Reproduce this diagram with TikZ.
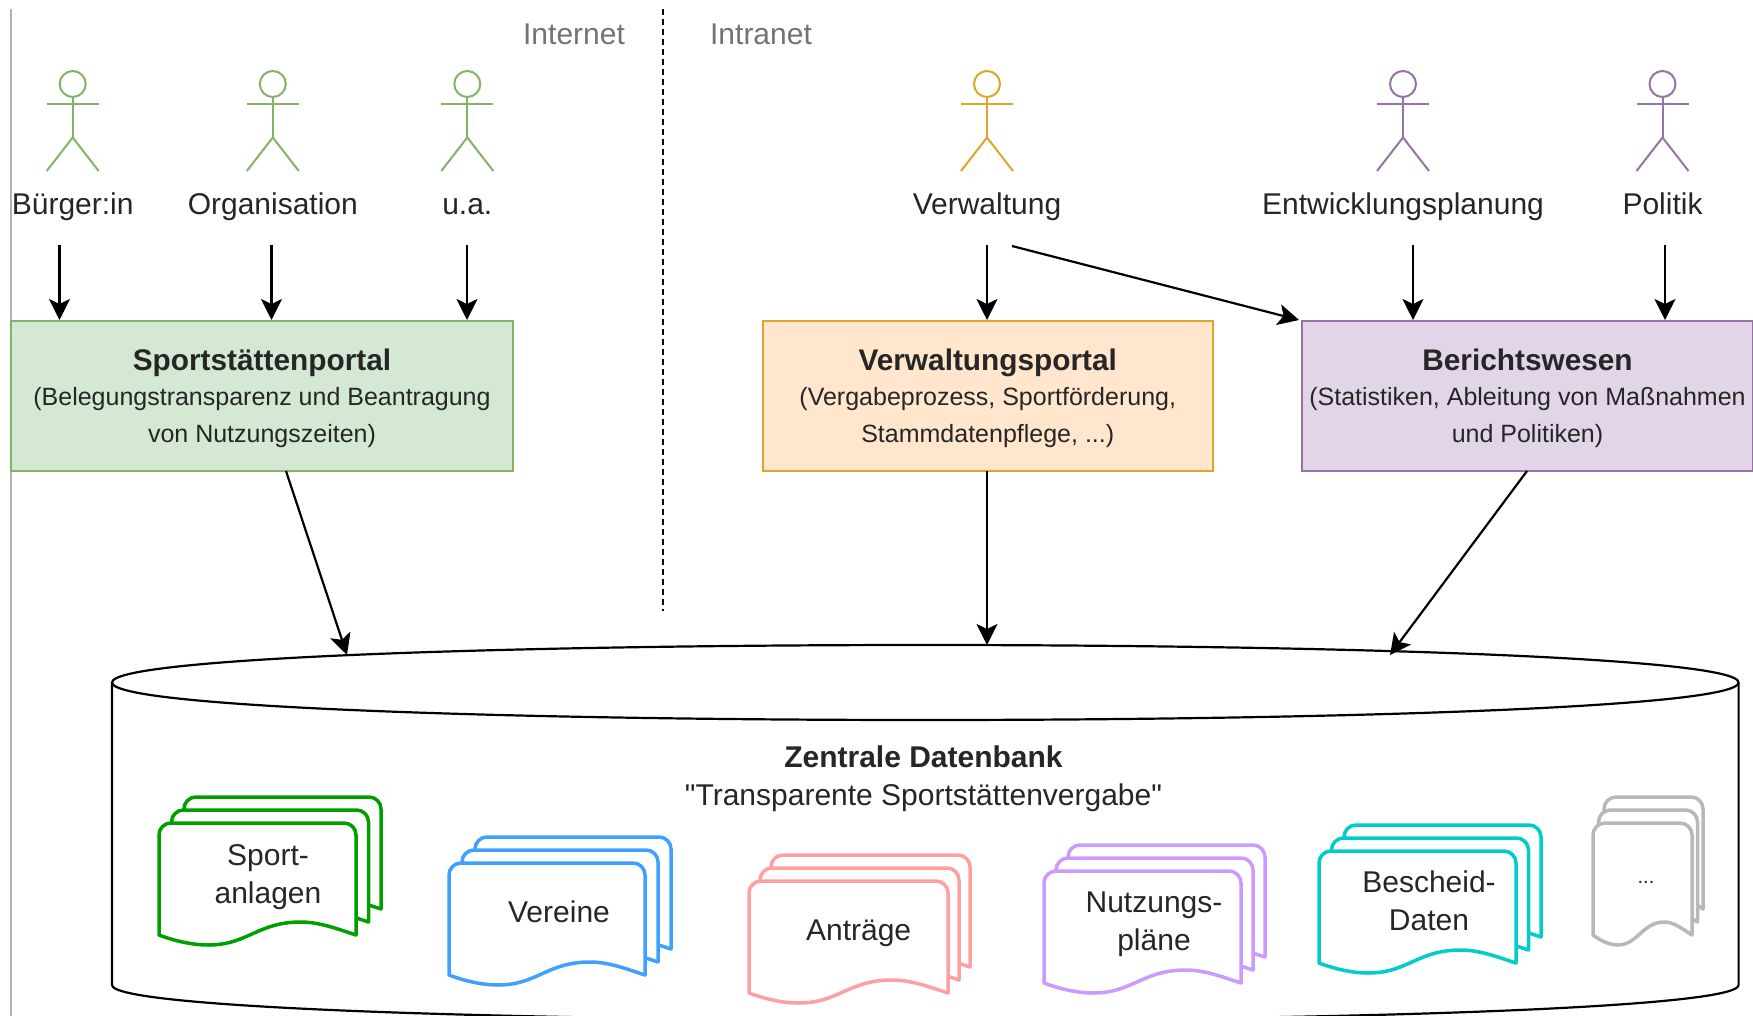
\documentclass[tikz,border=0pt]{standalone}
\usepackage{fontspec}
\setmainfont{Liberation Sans}
\newfontfamily\plainfont[Ligatures=NoCommon]{Liberation Sans}
\usetikzlibrary{arrows.meta}
\definecolor{grn}{HTML}{82B366}
\definecolor{grnf}{HTML}{D5E8D4}
\definecolor{org}{HTML}{E0A526}
\definecolor{orgf}{HTML}{FFE6CC}
\definecolor{pur}{HTML}{9673A6}
\definecolor{purf}{HTML}{E1D5E7}
\definecolor{dgreen}{HTML}{009F00}
\definecolor{dblue}{HTML}{3FA0FF}
\definecolor{dpink}{HTML}{FF9F9F}
\definecolor{dpurple}{HTML}{CC99FF}
\definecolor{dteal}{HTML}{00CCCC}
\definecolor{dgray}{HTML}{B8B8B8}
\tikzset{
  x=1pt,y=-1pt,
  lbl/.style={inner sep=0pt,text=black!85,font=\fontsize{30}{38}\selectfont},
  zone/.style={lbl,text=black!55},
  arr/.style={line width=2.2pt,draw=black,-{Stealth[length=21pt,width=21pt,inset=5pt]}},
  portal/.style={draw,line width=2pt,minimum height=150pt,inner sep=0pt,align=center,text=black!85,font=\fontsize{25}{37}\selectfont},
  db/.style={draw=black,line width=2.2pt,fill=white},
  doclayer/.style={line width=3.5pt,fill=white,line join=round},
  limb/.style={line width=2pt}
}
\newcommand{\ptitle}[1]{{\rule{0pt}{26pt}\fontsize{29.8}{36}\selectfont\bfseries #1}}
% actor: name, x, colour, label
\newcommand{\actorfig}[4]{%
  \node[circle,draw=#3,line width=2pt,minimum size=26pt,inner sep=0pt] (#1h) at (#2,84) {};
  \draw[limb,draw=#3] (#1h.south) -- (#2,137.5);
  \draw[limb,draw=#3] (#2-26,104) -- (#2+26,104);
  \draw[limb,draw=#3] (#2-26,171) -- (#2,137.5) -- (#2+26,171);
  \node[lbl,anchor=base] (#1l) at (#2,214.7) {#4};
}
% one sheet: width height
\newcommand{\sheet}[3]{%
  \draw[doclayer,draw=#3] (0,#2) [rounded corners=12pt] -- (0,0) -- (#1,0) [sharp corners] -- (#1,#2)
    .. controls (0.92*#1,#2-5) and (0.82*#1,#2-13) .. (0.72*#1,#2-13)
    .. controls (0.5*#1,#2-13) and (0.45*#1,#2+10) .. (0.25*#1,#2+10)
    .. controls (0.17*#1,#2+10) and (0.08*#1,#2+6) .. (0,#2) -- cycle;
}
% stack: x y w colour dx
\newcommand{\docstack}[5]{%
  \begin{scope}[shift={(#1+2*#5,#2-26)}]\sheet{#3}{112}{#4}\end{scope}
  \begin{scope}[shift={(#1+#5,#2-13)}]\sheet{#3}{112}{#4}\end{scope}
  \begin{scope}[shift={(#1,#2)}]\sheet{#3}{112}{#4}\end{scope}
}
\begin{document}
\begin{tikzpicture}
\clip (0,0) rectangle (1753,1016);
\fill[white] (0,0) rectangle (1753,1016);
\coordinate (edgeA) at (11,9); \coordinate (edgeB) at (11,1016);
\draw[line width=1.5pt,draw=black!30] (edgeA) -- (edgeB);
\coordinate (divA) at (662.5,9); \coordinate (divB) at (662.5,611);
\draw[line width=2pt,dash pattern=on 6pt off 4pt] (divA) -- (divB);
\node[zone] (internet) at (574,34) {Internet};
\node[zone] (intranet) at (761,34) {Intranet};

\actorfig{bu}{72.7}{grn}{Bürger:in}
\actorfig{og}{272.8}{grn}{Organisation}
\actorfig{ua}{467.3}{grn}{u.a.}
\actorfig{vw}{987}{org}{Verwaltung}
\actorfig{ep}{1403}{pur}{Entwicklungsplanung}
\actorfig{po}{1662.5}{pur}{Politik}

\node[portal,draw=grn,fill=grnf,minimum width=502pt] (sport) at (262,396)
  {\ptitle{Sportstättenportal}\\[-1.5pt](Belegungstransparenz und Beantragung\\von Nutzungszeiten)};
\node[portal,draw=org,fill=orgf,minimum width=450.5pt] (verw) at (987.75,396)
  {\ptitle{Verwaltungsportal}\\[-1.5pt](Vergabeprozess, Sportförderung,\\Stammdatenpflege, ...)};
\node[portal,draw=pur,fill=purf,minimum width=451pt] (ber) at (1527.5,396)
  {\ptitle{Berichtswesen}\\[-1.5pt](Statistiken, Ableitung von Maßnahmen\\und Politiken)};

\coordinate (a1) at (59.5,245);
\coordinate (a2) at (271.5,245);
\coordinate (a3) at (467,245);
\coordinate (a4) at (987,245);
\coordinate (a5) at (1012,246);
\coordinate (a6) at (1413,245);
\coordinate (a7) at (1665,245);
\coordinate (a5e) at (1299,320);
\draw[arr] (a1) -- (a1 |- sport.north);
\draw[arr] (a2) -- (a2 |- sport.north);
\draw[arr] (a3) -- (a3 |- sport.north);
\draw[arr] (a4) -- (a4 |- verw.north);
\draw[arr] (a5) -- (a5e);
\draw[arr] (a6) -- (a6 |- ber.north);
\draw[arr] (a7) -- (a7 |- ber.north);

% database
\draw[db] (112,682.5) .. controls (112,632.5) and (1738.6,632.5) .. (1738.6,682.5)
  -- (1738.6,985) .. controls (1738.6,1032) and (112,1032) .. (112,985) -- cycle;
\draw[db,fill=none] (112,682.5) .. controls (112,732.5) and (1738.6,732.5) .. (1738.6,682.5);
\node[lbl] (dbt) at (923.5,757) {\bfseries Zentrale Datenbank};
\node[lbl] (dbs) at (923.5,797.5) {\plainfont "Transparente Sportstättenvergabe"};

\coordinate (s1) at (286,471); \coordinate (d1) at (347,655);
\coordinate (s2) at (987,471); \coordinate (d2) at (987,645);
\coordinate (s3) at (1527,471); \coordinate (d3) at (1390,655);
\draw[arr] (s1) -- (d1);
\draw[arr] (s2) -- (d2);
\draw[arr] (s3) -- (d3);

\docstack{159}{823}{197}{dgreen}{12.5}
\docstack{449}{863}{196}{dblue}{13}
\docstack{749}{881}{199}{dpink}{11}
\docstack{1044}{871}{197}{dpurple}{12}
\docstack{1319}{851}{197}{dteal}{12.5}
\docstack{1593}{823}{99}{dgray}{5.5}

\node[lbl,align=center] (t1) at (268,877.5) {Sport-\\anlagen};
\node[lbl] (t2) at (559,912) {Vereine};
\node[lbl] (t3) at (858.6,933.5) {Anträge};
\node[lbl,align=center] (t4) at (1154,924.5) {Nutzungs-\\pläne};
\node[lbl,align=center] (t5) at (1429,901) {Bescheid-\\Daten};
\node[lbl,font=\fontsize{20}{24}\selectfont] (t6) at (1646,882.5) {...};
\end{tikzpicture}
\end{document}
